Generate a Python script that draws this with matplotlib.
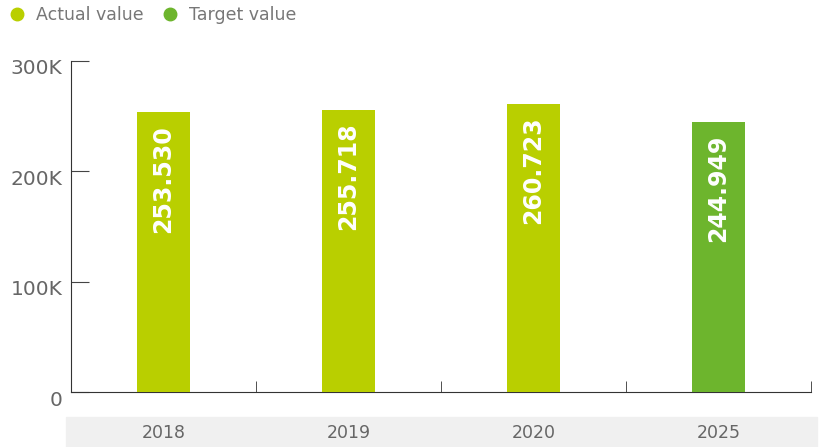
import matplotlib.pyplot as plt
import matplotlib.transforms as mtransforms
from matplotlib.lines import Line2D
from matplotlib.patches import Rectangle

years = ["2018", "2019", "2020", "2025"]
values = [253530, 255718, 260723, 244949]
kinds = ["actual", "actual", "actual", "target"]
colors = {"actual": "#b9cf00", "target": "#6db52d"}
yticks = [0, 100000, 200000, 300000]
ytick_labels = ["0", "100K", "200K", "300K"]

W, H = 819, 447
fig = plt.figure(figsize=(W / 100, H / 100), dpi=100)
ax = fig.add_axes([71 / W, (H - 392) / H, (811 - 71) / W, (392 - 61) / H])
ax.patch.set_alpha(0)

# grey band behind the year labels
fig.patches.append(Rectangle((66 / W, 0), (817 - 66) / W, (447 - 417) / H,
                             transform=fig.transFigure, color="#f0f0f0", zorder=-1))

xs = range(len(years))
bars = ax.bar(xs, values, width=0.285, color=[colors[k] for k in kinds], zorder=3)

for x, v in zip(xs, values):
    txt = f"{v // 1000}.{v % 1000:03d}"
    ax.annotate(txt, (x, v), xytext=(0, -9), textcoords="offset points",
                rotation=90, ha="center", va="top", color="white",
                fontsize=17, fontweight="bold", zorder=4)

ax.set_xlim(-0.5, len(years) - 0.5)
ax.set_ylim(0, 300000)
ax.set_xticks(list(xs))
ax.set_xticklabels(years, fontsize=12.5, color="#666666")
ax.set_xticks([i + 0.5 for i in xs], minor=True)
ax.tick_params(axis="x", which="major", length=0, pad=23)
ax.tick_params(axis="x", which="minor", direction="in", length=8, color="#333333")

ax.set_yticks(yticks)
ax.set_yticklabels(ytick_labels, fontsize=14.5, color="#666666")
ax.tick_params(axis="y", direction="in", length=13, pad=6, color="#444444")
offset = mtransforms.ScaledTranslation(0, -6 / 100, fig.dpi_scale_trans)
for lab in ax.get_yticklabels():
    lab.set_transform(lab.get_transform() + offset)

for s in ["top", "right"]:
    ax.spines[s].set_visible(False)
ax.spines["left"].set_color("#333333")
ax.spines["bottom"].set_color("#333333")

handles = [Line2D([], [], marker="o", linestyle="", markersize=9, color=colors["actual"]),
           Line2D([], [], marker="o", linestyle="", markersize=9, color=colors["target"])]
fig.legend(handles, ["Actual value", "Target value"], loc="upper left",
           bbox_to_anchor=(0.004, 0.998), ncol=2, frameon=False, fontsize=12.5,
           labelcolor="#777777", handlelength=1.0, handletextpad=0.6,
           columnspacing=1.0, borderaxespad=0.1, borderpad=0.2)

fig.savefig("out.png", dpi=100)
